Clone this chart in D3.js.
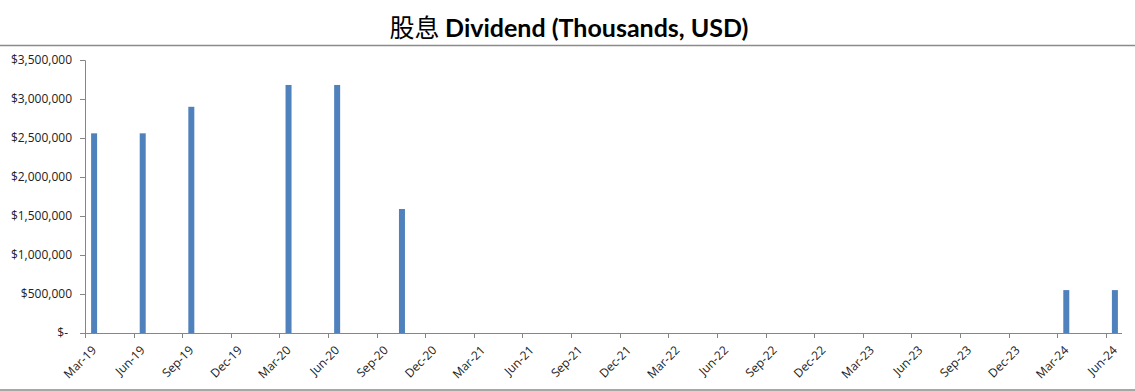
<!DOCTYPE html>
<html>
<head>
<meta charset="utf-8">
<script src="https://cdn.jsdelivr.net/npm/d3@7"></script>
<style>
  html, body { margin: 0; padding: 0; background: #fff; }
  svg { display: block; }
</style>
</head>
<body>
<svg id="chart" width="1135" height="391"></svg>
<script>
// ---- data ----
const titleText = "股息 Dividend (Thousands, USD)";
const payDates = ["2019-03", "2019-06", "2019-09", "2020-03", "2020-06", "2020-10", "2024-03", "2024-06"];
const dividends = [2560000, 2560000, 2900000, 3180000, 3180000, 1590000, 550000, 550000];
const axisStart = "2019-03";
const axisEnd = "2024-06";
const yTicks = [0, 500000, 1000000, 1500000, 2000000, 2500000, 3000000, 3500000];
const yMax = 3500000;

// ---- layout ----
const W = 1135, H = 391;
const mLeft = 85, mRight = 1122, mTop = 60, mBottom = 333;

const svg = d3.select("#chart");
const parse = d3.timeParse("%Y-%m");
const fmtMonth = d3.timeFormat("%b-%y");

const months = d3.timeMonth.range(parse(axisStart), d3.timeMonth.offset(parse(axisEnd), 1));
const monthKeys = months.map(d => d3.timeFormat("%Y-%m")(d));

const x = d3.scaleBand().domain(monthKeys).range([mLeft, mRight]).paddingInner(0).paddingOuter(0);
const y = d3.scaleLinear().domain([0, yMax]).range([mBottom, mTop]);

// chart border (top/bottom lines)
svg.append("rect")
  .attr("x", -2).attr("y", 45.5).attr("width", W + 4).attr("height", 344.5)
  .attr("fill", "none").attr("stroke", "#8a8a8a").attr("stroke-width", 1.5);

// title
const parts = titleText.split(" ");
svg.append("text")
  .attr("x", 569).attr("y", 37)
  .attr("text-anchor", "middle")
  .attr("font-size", 25)
  .attr("fill", "#000")
  .selectAll("tspan")
  .data([{t: parts[0] + " ", f: "'Noto Sans CJK SC'", w: "normal"},
         {t: parts.slice(1).join(" "), f: "Lato, sans-serif", w: "bold"}])
  .join("tspan")
  .attr("font-family", d => d.f)
  .attr("font-weight", d => d.w)
  .text(d => d.t);

// bars
const barW = 6;
svg.append("g").selectAll("rect")
  .data(payDates.map((d, i) => ({m: d, v: dividends[i]})))
  .join("rect")
  .attr("x", d => x(d.m) + x.bandwidth() / 2 - barW / 2 + 1)
  .attr("width", barW)
  .attr("y", d => y(d.v))
  .attr("height", d => y(0) - y(d.v))
  .attr("fill", "#4F81BD");

// y axis
const yAxis = d3.axisLeft(y)
  .tickValues(yTicks)
  .tickSize(5)
  .tickPadding(8)
  .tickFormat(v => v === 0 ? "$-" : "$" + d3.format(",")(v));
const gy = svg.append("g").attr("transform", `translate(${mLeft},0)`).call(yAxis);
gy.select(".domain").attr("stroke", "#868686");
gy.selectAll(".tick line").attr("stroke", "#868686");
gy.selectAll(".tick text")
  .attr("font-family", "'Open Sans', sans-serif")
  .attr("font-size", 12)
  .attr("fill", "#222")
  .attr("dx", v => v === 0 ? -4 : 0);

// x axis: ticks at start of each quarter month slot
const quarterKeys = monthKeys.filter((k, i) => i % 3 === 0);
const gx = svg.append("g").attr("transform", `translate(0,${mBottom})`);
gx.append("line")
  .attr("x1", mLeft).attr("x2", mRight).attr("y1", 0.5).attr("y2", 0.5)
  .attr("stroke", "#868686");
gx.selectAll("line.tk").data(quarterKeys).join("line")
  .attr("class", "tk")
  .attr("x1", d => Math.round(x(d)) + 0.5).attr("x2", d => Math.round(x(d)) + 0.5)
  .attr("y1", 0).attr("y2", 5)
  .attr("stroke", "#868686");
gx.selectAll("text").data(quarterKeys).join("text")
  .attr("transform", d => `translate(${x(d) + x.bandwidth() / 2 + 4},${18}) rotate(-45)`)
  .attr("text-anchor", "end")
  .attr("font-family", "'Open Sans', sans-serif")
  .attr("font-size", 12)
  .attr("fill", "#222")
  .text(d => fmtMonth(parse(d)));
</script>
</body>
</html>
